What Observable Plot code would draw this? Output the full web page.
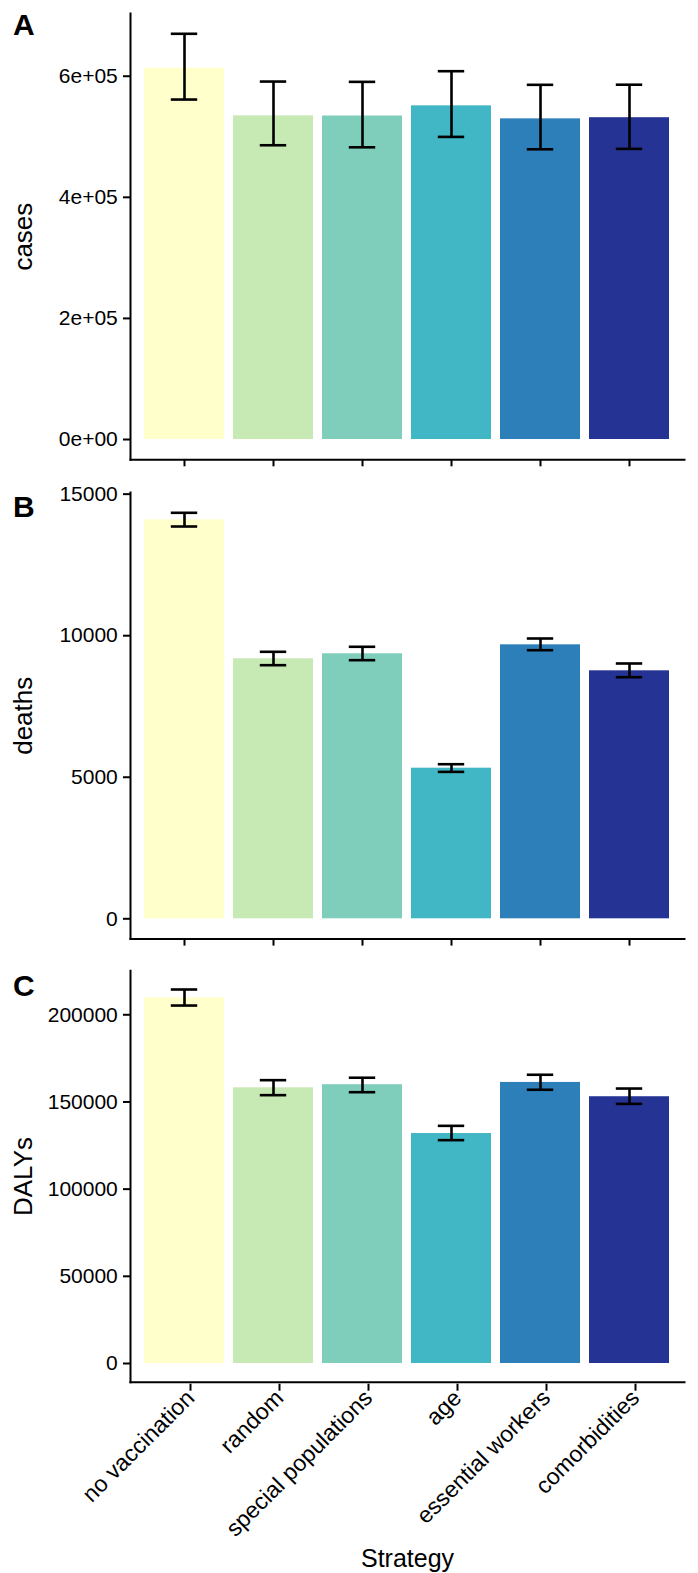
<!DOCTYPE html>
<html>
<head>
<meta charset="utf-8">
<script src="https://cdn.jsdelivr.net/npm/d3@7"></script>
<script src="https://cdn.jsdelivr.net/npm/@observablehq/plot@0.6"></script>
<style>
  html, body { margin: 0; padding: 0; background: #fff; }
  #chart svg { display: block; }
</style>
</head>
<body>
<div id="chart"></div>
<script>
const strategies = ["no vaccination", "random", "special populations", "age", "essential workers", "comorbidities"];
const barColors = ["#FFFFCC", "#C7E9B4", "#7FCDBB", "#41B6C4", "#2C7FB8", "#253494"];

const casesMean = [613200, 534500, 534300, 551100, 529600, 531500];
const casesLow  = [561500, 486000, 482600, 499800, 479300, 480000];
const casesHigh = [670100, 591200, 590700, 608300, 585800, 586000];

const deathsMean = [14094, 9184, 9361, 5320, 9678, 8760];
const deathsLow  = [13857, 8958, 9135, 5190, 9488, 8534];
const deathsHigh = [14341, 9431, 9608, 5460, 9901, 9018];

const dalysMean = [209700, 158100, 159900, 131900, 161200, 153000];
const dalysLow  = [205300, 153900, 155600, 128100, 157000, 148900];
const dalysHigh = [214500, 162500, 163900, 136300, 165600, 157700];

const casesTicks = [0, 200000, 400000, 600000];
const casesTickLabels = ["0e+00", "2e+05", "4e+05", "6e+05"];
const deathsTicks = [0, 5000, 10000, 15000];
const dalysTicks = [0, 50000, 100000, 150000, 200000];

const FONT = "'Liberation Sans', Arial, Helvetica, sans-serif";

function panel({mean, low, high, yLabel, tag, ticks, tickFormat, height, marginTop, marginBottom, showX, tagDy}) {
  const data = strategies.map((s, i) => ({strategy: s, value: mean[i], lo: low[i], hi: high[i]}));
  const maxV = d3.max(high);
  const pad = 0.05 * maxV;
  const marks = [
    Plot.barY(data, {x: "strategy", y: "value", fill: "strategy"}),
    Plot.ruleX(data, {x: "strategy", y1: "lo", y2: "hi", stroke: "black", strokeWidth: 2.6}),
    Plot.tickY(data, {x: "strategy", y: "lo", stroke: "black", strokeWidth: 2.6, insetLeft: 26.8, insetRight: 26.8}),
    Plot.tickY(data, {x: "strategy", y: "hi", stroke: "black", strokeWidth: 2.6, insetLeft: 26.8, insetRight: 26.8}),
    Plot.frame({anchor: "left", stroke: "black", strokeWidth: 2}),
    Plot.frame({anchor: "bottom", stroke: "black", strokeWidth: 2}),
    Plot.axisY({ticks, tickFormat, tickSize: 7, tickPadding: 5.7, strokeWidth: 2, fontSize: 21, label: null}),
    showX
      ? Plot.axisX({tickSize: 7, tickPadding: 3, strokeWidth: 2, fontSize: 23, tickRotate: -45, dx: 6, dy: 2, label: null})
      : Plot.axisX({tickSize: 7, strokeWidth: 2, tickFormat: () => "", label: null}),
    Plot.text([yLabel], {text: d => d, frameAnchor: "left", rotate: -90, dx: -106.5, textAnchor: "middle", lineAnchor: "middle", fontSize: 26}),
    Plot.text([tag], {text: d => d, frameAnchor: "top-left", dx: -117.5, dy: tagDy, textAnchor: "start", lineAnchor: "top", fontSize: 30, fontWeight: "bold"})
  ];
  if (showX) {
    marks.push(Plot.text(["Strategy"], {text: d => d, frameAnchor: "bottom", dy: 177, textAnchor: "middle", lineAnchor: "middle", fontSize: 25}));
  }
  return Plot.plot({
    width: 698,
    height,
    marginLeft: 130,
    marginRight: 14,
    marginTop,
    marginBottom,
    style: {fontFamily: FONT, color: "black", background: "white", overflow: "visible"},
    x: {domain: strategies, paddingInner: 0.1, paddingOuter: 0.15},
    y: {domain: [-pad, maxV + pad]},
    color: {domain: strategies, range: barColors},
    marks
  });
}

const root = document.getElementById("chart");
root.appendChild(panel({
  mean: casesMean, low: casesLow, high: casesHigh, yLabel: "cases", tag: "A",
  ticks: casesTicks, tickFormat: v => casesTickLabels[casesTicks.indexOf(v)],
  height: 476, marginTop: 13, marginBottom: 16.7, showX: false, tagDy: 0
}));
root.appendChild(panel({
  mean: deathsMean, low: deathsLow, high: deathsHigh, yLabel: "deaths", tag: "B",
  ticks: deathsTicks, tickFormat: d => String(d),
  height: 479, marginTop: 16, marginBottom: 16.4, showX: false, tagDy: 3
}));
root.appendChild(panel({
  mean: dalysMean, low: dalysLow, high: dalysHigh, yLabel: "DALYs", tag: "C",
  ticks: dalysTicks, tickFormat: d => String(d),
  height: 618, marginTop: 15.3, marginBottom: 191.3, showX: true, tagDy: 4
}));
</script>
</body>
</html>
